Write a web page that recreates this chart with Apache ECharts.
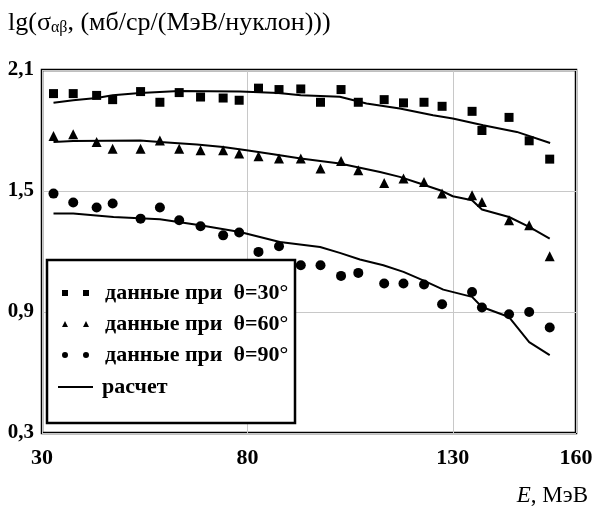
<!DOCTYPE html>
<html>
<head>
<meta charset="utf-8">
<script src="https://cdn.jsdelivr.net/npm/echarts@6/dist/echarts.min.js"></script>
<style>html,body{margin:0;padding:0;background:#fff}#c{width:596px;height:509px}</style>
</head>
<body>
<div id="c"></div>
<script>
// Data points (E in MeV) shared by the three measured series
const energies = [32.8, 37.6, 43.3, 47.2, 54.0, 58.7, 63.4, 68.6, 74.1, 78.0, 82.7, 87.7, 93.0, 97.8, 102.8, 107.0, 113.3, 118.0, 123.0, 127.4, 134.7, 137.1, 143.7, 148.6, 153.6];
const data30 = [1.983, 1.983, 1.974, 1.953, 1.993, 1.940, 1.988, 1.966, 1.961, 1.950, 2.010, 2.003, 2.006, 1.940, 2.003, 1.940, 1.953, 1.937, 1.940, 1.920, 1.895, 1.800, 1.865, 1.749, 1.658];
const data60 = [1.773, 1.781, 1.743, 1.710, 1.710, 1.751, 1.710, 1.702, 1.702, 1.686, 1.672, 1.661, 1.661, 1.611, 1.649, 1.603, 1.540, 1.562, 1.545, 1.487, 1.479, 1.446, 1.355, 1.330, 1.176];
const data90 = [1.487, 1.443, 1.418, 1.438, 1.363, 1.418, 1.355, 1.325, 1.280, 1.294, 1.198, 1.226, 1.132, 1.132, 1.079, 1.094, 1.041, 1.041, 1.036, 0.938, 0.999, 0.922, 0.889, 0.900, 0.823];

// Calculated curves
const calc30E = [32.8, 37.6, 43.3, 47.2, 53.9, 63.4, 78.2, 87.6, 93.0, 102.5, 109.0, 117.1, 125.2, 130.0, 137.4, 145.6, 153.7];
const calc30V = [1.938, 1.950, 1.961, 1.975, 1.986, 1.996, 1.994, 1.986, 1.975, 1.967, 1.934, 1.909, 1.876, 1.860, 1.826, 1.793, 1.738];
const calc60E = [32.8, 37.6, 53.9, 58.7, 67.7, 74.1, 79.8, 86.3, 93.0, 102.5, 112.3, 117.1, 122.0, 126.9, 130.0, 134.7, 137.1, 143.7, 148.6, 153.6];
const calc60V = [1.743, 1.748, 1.751, 1.743, 1.730, 1.718, 1.702, 1.682, 1.661, 1.636, 1.594, 1.570, 1.537, 1.504, 1.474, 1.454, 1.408, 1.371, 1.322, 1.264];
const calc90E = [32.8, 37.6, 47.4, 58.7, 68.5, 78.2, 87.9, 97.7, 102.5, 107.4, 113.1, 118.0, 122.8, 127.7, 134.7, 137.1, 143.7, 148.6, 153.6];
const calc90V = [1.388, 1.388, 1.371, 1.360, 1.330, 1.297, 1.247, 1.222, 1.193, 1.160, 1.132, 1.099, 1.057, 1.011, 0.975, 0.925, 0.875, 0.751, 0.686];

const xTicks = [30, 80, 130, 160];
const yTicks = [0.3, 0.9, 1.5, 2.1];

const seriesNames = ['данные при  θ=30°', 'данные при  θ=60°', 'данные при  θ=90°'];
const calcName = 'расчет';

const zip = (a, b) => a.map((v, i) => [v, b[i]]);
const serif = 'Liberation Serif';

const chart = echarts.init(document.getElementById('c'));
chart.setOption({
  animation: false,
  backgroundColor: '#fff',
  title: [
    {
      text: 'lg(σ{s|αβ}, (мб/ср/(МэВ/нуклон)))',
      left: 3, top: 5,
      textStyle: {
        fontFamily: serif, fontSize: 26, fontWeight: 'normal', color: '#000',
        rich: { s: { fontFamily: serif, fontSize: 16, color: '#000', padding: [10, 0, 0, 0] } }
      }
    },
    {
      text: '{i|E}, МэВ',
      right: 3, top: 479,
      textStyle: {
        fontFamily: serif, fontSize: 23, fontWeight: 'normal', color: '#000',
        rich: { i: { fontFamily: serif, fontSize: 23, fontStyle: 'italic', color: '#000' } }
      }
    }
  ],
  grid: {
    left: 42, right: 20, top: 70, bottom: 76,
    show: true, borderColor: '#000', borderWidth: 2.5, backgroundColor: 'transparent'
  },
  xAxis: {
    type: 'value', min: xTicks[0], max: xTicks[xTicks.length - 1], interval: 50,
    axisLine: { show: false }, axisTick: { show: false },
    splitLine: { show: true, lineStyle: { color: '#c8c8c8', width: 1 } },
    axisLabel: {
      margin: 14, fontFamily: serif, fontSize: 22, fontWeight: 'bold', color: '#000',
      customValues: xTicks
    }
  },
  yAxis: {
    type: 'value', min: yTicks[0], max: yTicks[yTicks.length - 1], interval: 0.6,
    axisLine: { show: false }, axisTick: { show: false },
    splitLine: { show: true, lineStyle: { color: '#c8c8c8', width: 1 } },
    axisLabel: {
      margin: 8, fontFamily: serif, fontSize: 21, fontWeight: 'bold', color: '#000',
      formatter: v => v.toFixed(1).replace('.', ',')
    }
  },
  graphic: [
    {
      type: 'rect', z: 50,
      shape: { x: 47, y: 260, width: 248, height: 163 },
      style: { fill: '#fff', stroke: '#000', lineWidth: 2.5 }
    }
  ],
  legend: [
    {
      z: 60, orient: 'vertical', left: 62, top: 282, padding: 0,
      itemWidth: 27, itemHeight: 6, itemGap: 9,
      textStyle: { fontFamily: serif, fontSize: 22, fontWeight: 'bold', color: '#000', lineHeight: 22, padding: [0, 0, 0, 11] },
      data: [
        { name: seriesNames[0], icon: 'path://M0,0h6v6h-6zM21,0h6v6h-6z' },
        { name: seriesNames[1], icon: 'path://M3,0L6,6L0,6zM24,0L27,6L21,6z' },
        { name: seriesNames[2], icon: 'path://M0,3a3,3 0 1,0 6,0a3,3 0 1,0 -6,0zM21,3a3,3 0 1,0 6,0a3,3 0 1,0 -6,0z' }
      ]
    },
    {
      z: 60, orient: 'vertical', left: 58, top: 376, padding: 0,
      itemWidth: 35, itemHeight: 2,
      textStyle: { fontFamily: serif, fontSize: 22, fontWeight: 'bold', color: '#000', lineHeight: 22, padding: [0, 0, 0, 4] },
      data: [{ name: calcName, icon: 'rect' }]
    }
  ],
  series: [
    { name: calcName, type: 'line', data: zip(calc30E, calc30V), symbol: 'none', lineStyle: { color: '#000', width: 2 }, itemStyle: { color: '#000' }, z: 2 },
    { name: calcName, type: 'line', data: zip(calc60E, calc60V), symbol: 'none', lineStyle: { color: '#000', width: 2 }, itemStyle: { color: '#000' }, z: 2 },
    { name: calcName, type: 'line', data: zip(calc90E, calc90V), symbol: 'none', lineStyle: { color: '#000', width: 2 }, itemStyle: { color: '#000' }, z: 2 },
    { name: seriesNames[0], type: 'scatter', data: zip(energies, data30), symbol: 'rect', symbolSize: 9, itemStyle: { color: '#000', opacity: 1 }, z: 3 },
    { name: seriesNames[1], type: 'scatter', data: zip(energies, data60), symbol: 'triangle', symbolSize: 10, itemStyle: { color: '#000', opacity: 1 }, z: 3 },
    { name: seriesNames[2], type: 'scatter', data: zip(energies, data90), symbol: 'circle', symbolSize: 10, itemStyle: { color: '#000', opacity: 1 }, z: 3 }
  ]
});
</script>
</body>
</html>
